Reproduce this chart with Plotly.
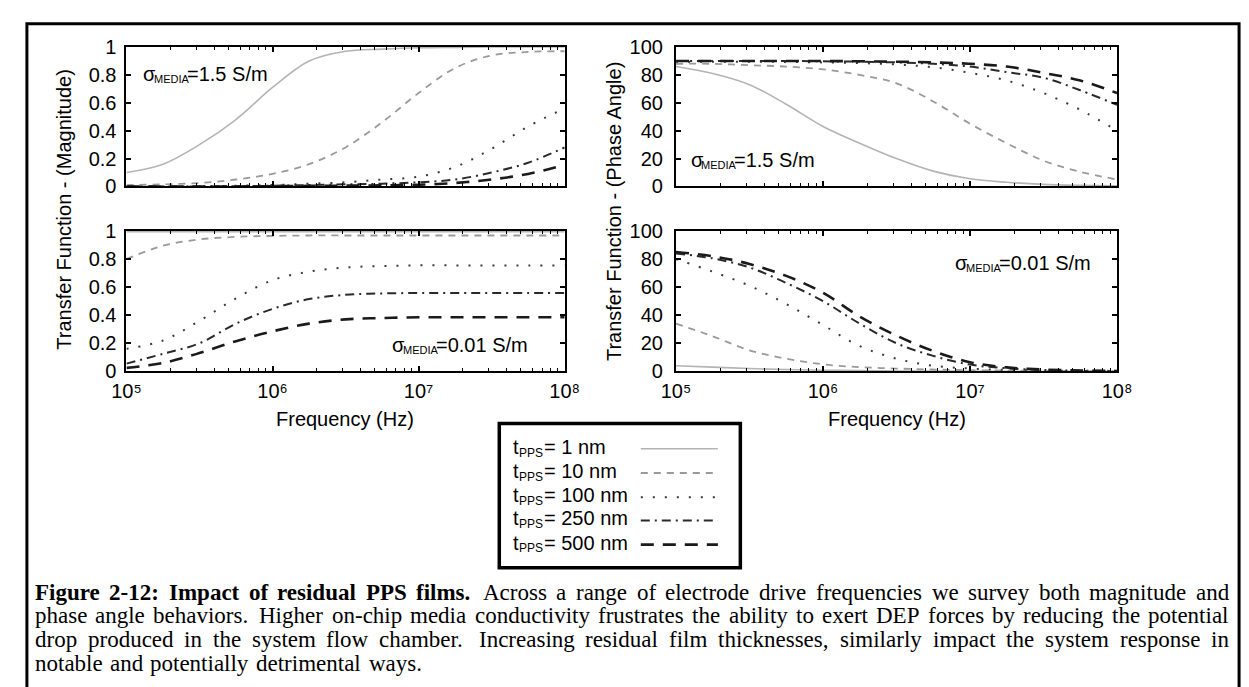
import plotly.graph_objects as go

W, H = 1249, 687

# ---------------- data ----------------
freq_hz = [1.0e5, 1.78e5, 3.16e5, 5.62e5, 1.0e6, 1.78e6, 3.16e6, 5.62e6,
           1.0e7, 1.78e7, 3.16e7, 5.62e7, 1.0e8]

series_names = ["1 nm", "10 nm", "100 nm", "250 nm", "500 nm"]

# magnitude, sigma = 1.5 S/m (top-left)
mag_hi_1nm   = [0.10, 0.16, 0.30, 0.48, 0.71, 0.90, 0.97, 0.985, 0.995, 0.998, 1.0, 1.0, 1.0]
mag_hi_10nm  = [0.01, 0.015, 0.025, 0.05, 0.09, 0.16, 0.28, 0.46, 0.67, 0.85, 0.94, 0.965, 0.97]
mag_hi_100nm = [0.0, 0.0, 0.002, 0.005, 0.01, 0.02, 0.03, 0.05, 0.07, 0.14, 0.27, 0.43, 0.56]
mag_hi_250nm = [0.0, 0.0, 0.0, 0.002, 0.005, 0.01, 0.015, 0.02, 0.03, 0.05, 0.10, 0.17, 0.28]
mag_hi_500nm = [0.0, 0.0, 0.0, 0.0, 0.002, 0.004, 0.006, 0.008, 0.012, 0.025, 0.05, 0.09, 0.155]

# phase angle, sigma = 1.5 S/m (top-right)
ph_hi_1nm   = [86, 81, 73, 59, 43, 31, 20, 11, 5.5, 3, 1.5, 0.8, 0.4]
ph_hi_10nm  = [88, 88, 87, 86, 84, 80, 74, 61, 45, 31, 18.5, 10.5, 5]
ph_hi_100nm = [89.5, 89.5, 89.5, 89.3, 89, 88.5, 87.5, 85.5, 81.5, 76, 67, 55, 40]
ph_hi_250nm = [90, 90, 90, 90, 89.8, 89.5, 89, 88, 86, 82, 78, 69, 58.5]
ph_hi_500nm = [90, 90, 90, 90, 90, 89.8, 89.5, 89, 88, 86, 81.5, 76, 67]

# magnitude, sigma = 0.01 S/m (bottom-left)
mag_lo_1nm   = [0.995] * 13
mag_lo_10nm  = [0.80, 0.895, 0.94, 0.958, 0.965, 0.968, 0.968, 0.968, 0.968, 0.968, 0.968, 0.968, 0.968]
mag_lo_100nm = [0.16, 0.22, 0.36, 0.52, 0.65, 0.71, 0.74, 0.75, 0.755, 0.755, 0.755, 0.755, 0.755]
mag_lo_250nm = [0.055, 0.125, 0.20, 0.34, 0.445, 0.515, 0.545, 0.555, 0.558, 0.558, 0.558, 0.558, 0.558]
mag_lo_500nm = [0.025, 0.06, 0.13, 0.215, 0.285, 0.34, 0.37, 0.38, 0.385, 0.385, 0.385, 0.385, 0.385]

# phase angle, sigma = 0.01 S/m (bottom-right)
ph_lo_1nm   = [4, 3, 2, 1.3, 0.8, 0.5, 0.3, 0.2, 0.1, 0.05, 0.05, 0.05, 0.05]
ph_lo_10nm  = [34, 25, 15, 9, 5, 3, 2, 1.3, 0.8, 0.5, 0.3, 0.2, 0.1]
ph_lo_100nm = [80, 71, 61, 48, 33, 18, 9, 4, 2, 1, 0.5, 0.3, 0.1]
ph_lo_250nm = [84, 80.5, 74, 63, 50, 34, 20, 11, 4.8, 2.2, 1.0, 0.5, 0.3]
ph_lo_500nm = [85, 82, 76.5, 68, 56, 39, 25.5, 14.5, 6.5, 2.8, 1.3, 0.6, 0.3]

x_tick_vals = [1e5, 1e6, 1e7, 1e8]
x_tick_text = ["10\u2075", "10\u2076", "10\u2077", "10\u2078"]
mag_ticks = [0, 0.2, 0.4, 0.6, 0.8, 1]
phase_ticks = [0, 20, 40, 60, 80, 100]

sigma_hi = "=1.5 S/m"
sigma_lo = "=0.01 S/m"

caption_bold = "Figure 2-12: Impact of residual PPS films."
caption_lines = [
    "Across a range of electrode drive frequencies we survey both magnitude and",
    "phase angle behaviors.  Higher on-chip media conductivity frustrates the ability to exert DEP forces by reducing the potential",
    "drop produced in the system flow chamber.  Increasing residual film thicknesses, similarly impact the system response in",
    "notable and potentially detrimental ways.",
]

# ---------------- styles ----------------
styles = [
    dict(color="#b4b4b4", width=1.6, dash="solid"),
    dict(color="#9a9a9a", width=1.8, dash="7px,6px"),
    dict(color="#3a3a3a", width=2.0, dash="2px,10px"),
    dict(color="#2a2a2a", width=2.0, dash="9px,5px,2px,5px"),
    dict(color="#1a1a1a", width=2.6, dash="13px,9px"),
]

SANS = "Liberation Sans, Arial, Helvetica, sans-serif"
SERIF = "Liberation Serif, Times New Roman, serif"


def px(x):
    return x / W


def py(y):
    return 1 - y / H


fig = go.Figure()

panels = [
    ("x", "y", [mag_hi_1nm, mag_hi_10nm, mag_hi_100nm, mag_hi_250nm, mag_hi_500nm]),
    ("x2", "y2", [ph_hi_1nm, ph_hi_10nm, ph_hi_100nm, ph_hi_250nm, ph_hi_500nm]),
    ("x3", "y3", [mag_lo_1nm, mag_lo_10nm, mag_lo_100nm, mag_lo_250nm, mag_lo_500nm]),
    ("x4", "y4", [ph_lo_1nm, ph_lo_10nm, ph_lo_100nm, ph_lo_250nm, ph_lo_500nm]),
]
for xa, ya, data in panels:
    for name, vals, st in zip(series_names, data, styles):
        fig.add_trace(go.Scatter(
            x=freq_hz, y=vals, xaxis=xa, yaxis=ya, mode="lines",
            line=dict(color=st["color"], width=st["width"], dash=st["dash"],
                      shape="spline", smoothing=1.0),
            name=name, showlegend=False, hoverinfo="skip"))

LEFT = [px(106), px(555)]
RIGHT = [px(669), px(1121)]
TOP = [py(173), py(29)]
BOT = [py(364), py(219)]

minor_vals = [m * 10 ** e for e in (5, 6, 7) for m in range(2, 10)]


def xaxis(domain, anchor, labels):
    return dict(
        domain=domain, anchor=anchor, type="log", range=[5, 8],
        showline=True, linecolor="black", linewidth=2, mirror="allticks",
        ticks="inside", ticklen=5, tickwidth=1.5, tickcolor="black",
        tickvals=x_tick_vals, ticktext=x_tick_text,
        showticklabels=labels, ticklabelstandoff=1,
        tickfont=dict(family=SANS, size=20, color="black"),
        minor=dict(tickvals=minor_vals, ticks="inside", ticklen=3,
                   tickwidth=1.2, tickcolor="black", showgrid=False),
        showgrid=False, zeroline=False, fixedrange=True)


def yaxis(domain, anchor, rng, tickv, standoff):
    return dict(
        domain=domain, anchor=anchor, range=rng,
        showline=True, linecolor="black", linewidth=2, mirror="allticks",
        ticks="inside", ticklen=5, tickwidth=1.5, tickcolor="black",
        tickvals=tickv, ticklabelstandoff=standoff,
        tickfont=dict(family=SANS, size=20, color="black"),
        showgrid=False, zeroline=False, fixedrange=True)


fig.update_layout(
    width=W, height=H, margin=dict(l=0, r=0, t=0, b=0),
    paper_bgcolor="white", plot_bgcolor="white",
    xaxis=xaxis(LEFT, "y", False),
    yaxis=yaxis(TOP, "x", [0, 1], mag_ticks, 4),
    xaxis2=xaxis(RIGHT, "y2", False),
    yaxis2=yaxis(TOP, "x2", [0, 100], phase_ticks, 7),
    xaxis3=xaxis(LEFT, "y3", True),
    yaxis3=yaxis(BOT, "x3", [0, 1], mag_ticks, 4),
    xaxis4=xaxis(RIGHT, "y4", True),
    yaxis4=yaxis(BOT, "x4", [0, 100], phase_ticks, 7),
)

ann = []


def add_text(text, x, y, size=20, xanchor="center", yanchor="middle", family=SANS, angle=0):
    ann.append(dict(text=text, x=px(x), y=py(y), xref="paper", yref="paper",
                    xanchor=xanchor, yanchor=yanchor, showarrow=False,
                    borderpad=0, borderwidth=0,
                    textangle=angle, font=dict(family=family, size=size, color="black")))


def sigma_label(x0, yc, rest):
    add_text("\u03c3", x0, yc, size=20, xanchor="left")
    add_text("MEDIA", x0 + 11, yc + 5, size=11, xanchor="left")
    add_text(rest, x0 + 45, yc, size=20, xanchor="left")


# panel labels
sigma_label(123, 57, sigma_hi)
sigma_label(684, 146, sigma_hi)
sigma_label(378, 337, sigma_lo)
sigma_label(955, 252, sigma_lo)

# axis titles
add_text("Transfer Function - (Magnitude)", 42, 197, size=20, angle=-90)
add_text("Transfer Function - (Phase Angle)", 605, 199, size=20, angle=-90)
add_text("Frequency (Hz)", 330, 413, size=20)
add_text("Frequency (Hz)", 895, 413, size=20)

# legend text + sample lines
legend_rows = [444, 469, 494, 518, 543]
shapes = []
for name, st, yy in zip(series_names, styles, legend_rows):
    add_text("t", 502, yy - 2, size=20, xanchor="left")
    add_text("PPS", 508, yy + 4, size=12, xanchor="left")
    add_text("= " + name, 534, yy - 2, size=20, xanchor="left")
    shapes.append(dict(type="line", xref="paper", yref="paper",
                       x0=px(633), x1=px(712), y0=py(yy), y1=py(yy),
                       line=dict(color=st["color"], width=st["width"], dash=st["dash"])))
shapes.append(dict(type="rect", xref="paper", yref="paper",
                   x0=px(488), x1=px(735), y0=py(418), y1=py(567),
                   line=dict(color="black", width=3.5), fillcolor="rgba(0,0,0,0)"))

# outer frame
shapes.append(dict(type="rect", xref="paper", yref="paper",
                   x0=px(4), x1=px(1246), y0=py(5), y1=py(720),
                   line=dict(color="black", width=3), fillcolor="rgba(0,0,0,0)"))

# ---------------- caption: justified, word by word (Times metrics) ----------------
ROMAN = {' ': 250, ',': 250, '-': 333, '.': 250, ':': 278, 'A': 722, 'D': 722, 'E': 611,
         'F': 556, 'H': 722, 'I': 333, 'P': 556, 'S': 556,
         'a': 444, 'b': 500, 'c': 444, 'd': 500, 'e': 444, 'f': 333, 'g': 500, 'h': 500,
         'i': 278, 'j': 278, 'k': 500, 'l': 278, 'm': 778, 'n': 500, 'o': 500, 'p': 500,
         'q': 500, 'r': 333, 's': 389, 't': 278, 'u': 500, 'v': 500, 'w': 722, 'x': 500,
         'y': 500, 'z': 444}
BOLD = {' ': 250, ',': 250, '-': 333, '.': 250, ':': 333, 'A': 722, 'D': 722, 'E': 667,
        'F': 611, 'H': 778, 'I': 389, 'P': 611, 'S': 556,
        'a': 500, 'b': 556, 'c': 444, 'd': 556, 'e': 444, 'f': 333, 'g': 500, 'h': 556,
        'i': 278, 'j': 333, 'k': 556, 'l': 278, 'm': 833, 'n': 556, 'o': 500, 'p': 556,
        'q': 556, 'r': 444, 's': 389, 't': 333, 'u': 556, 'v': 500, 'w': 722, 'x': 500,
        'y': 500, 'z': 444}
CAP_SIZE = 23
CAP_X0, CAP_X1 = 12, 1236
CAP_Y0, CAP_DY = 592, 24.5
WIDTH_FUDGE = 1.03


def word_w(word, bold):
    tab = BOLD if bold else ROMAN
    return sum(tab.get(c, 500) for c in word) * CAP_SIZE / 1000.0 * WIDTH_FUDGE


for i in range(4):
    words = []  # (text, bold, gap_weight_before)
    if i == 0:
        for w in caption_bold.split(" "):
            words.append((w, True, 1.0))
        first = True
        for w in caption_lines[0].split(" "):
            words.append((w, False, 1.3 if first else 1.0))
            first = False
    else:
        parts = caption_lines[i].split("  ")
        for pi, part in enumerate(parts):
            for k, w in enumerate(part.split(" ")):
                words.append((w, False, 1.3 if (pi > 0 and k == 0) else 1.0))
    widths = [word_w(w, b) for w, b, _ in words]
    space = 250 * CAP_SIZE / 1000.0
    weights = [g for _, _, g in words[1:]]
    if i < 3:
        extra_total = (CAP_X1 - CAP_X0) - sum(widths) - space * sum(weights)
        per = extra_total / sum(weights)
    else:
        per = 1.5
    x = CAP_X0
    y = CAP_Y0 + i * CAP_DY
    for j, ((w, b, g), wd) in enumerate(zip(words, widths)):
        if j > 0:
            x += (space + per) * g
        add_text("<b>" + w + "</b>" if b else w, x, y, size=CAP_SIZE,
                 xanchor="left", family=SERIF)
        x += wd

fig.update_layout(annotations=ann, shapes=shapes)
fig.write_html("out.html")
